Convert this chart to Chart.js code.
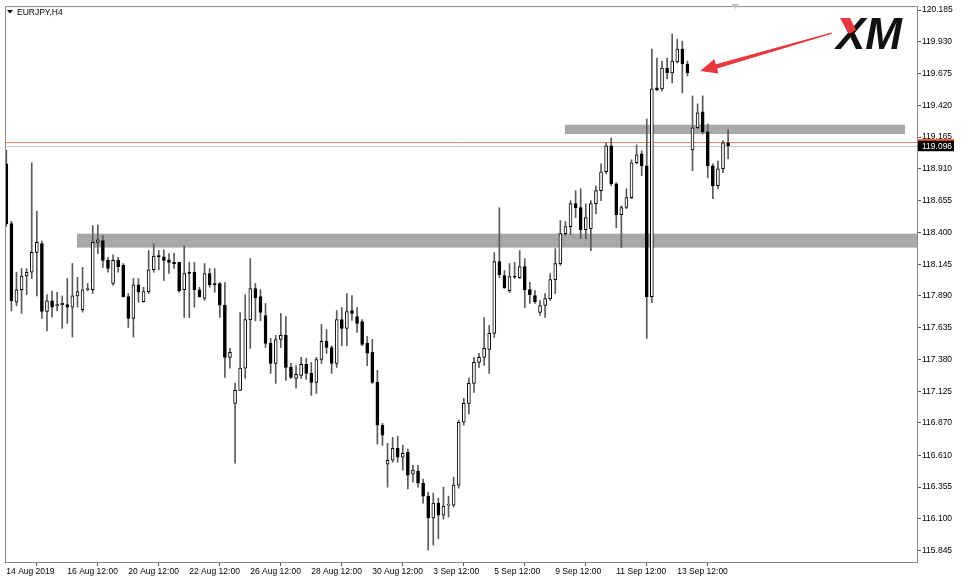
<!DOCTYPE html>
<html><head><meta charset="utf-8">
<script src="https://cdn.jsdelivr.net/npm/chart.js@4.4.1/dist/chart.umd.min.js"></script>
<style>html,body{margin:0;padding:0;background:#fff;overflow:hidden}#wrap{width:967px;height:585px}</style>
</head><body><div id="wrap"><canvas id="c" width="967" height="585"></canvas></div>
<script>
const symbolTitle = 'EURJPY,H4';
const opens = [118.95,118.47,117.84,117.94,118.05,118.08,118.24,118.31,117.765,117.85,
117.81,117.82,117.82,117.80,117.89,117.78,117.94,117.94,118.32,118.335,
118.175,117.99,118.175,118.135,117.885,117.71,117.98,117.845,117.925,118.10,
118.215,118.205,118.18,118.16,118.16,117.94,118.08,118.08,117.94,117.87,
118.07,117.99,117.99,117.815,117.397,117.028,117.132,117.31,117.70,117.95,
117.885,117.733,117.509,117.348,117.54,117.573,117.316,117.228,117.252,117.34,
117.268,117.196,117.38,117.525,117.476,117.348,117.70,117.629,117.773,117.725,
117.685,117.51,117.437,117.196,116.852,116.539,116.571,116.667,116.595,116.635,
116.459,116.483,116.387,116.283,116.107,116.227,116.13,116.21,116.21,116.371,
116.876,117.028,117.188,117.357,117.397,117.461,117.589,118.166,118.053,117.933,
118.045,118.037,118.125,117.941,117.893,117.757,117.813,117.869,118.021,118.15,
118.39,118.446,118.631,118.599,118.422,118.43,118.631,118.735,118.887,119.095,
118.791,118.542,118.6,118.679,118.959,119.031,118.935,117.885,119.56,119.552,
119.72,119.68,119.768,119.872,119.752,119.063,119.24,119.368,119.207,118.935,
118.775,118.911,119.12];
const highs = [119.06,118.49,118.08,118.11,118.11,118.96,118.57,118.33,117.90,117.93,
117.92,117.89,118.03,118.15,118.04,118.12,117.99,118.455,118.46,118.375,
118.20,118.22,118.20,118.15,117.91,118.03,118.03,117.96,118.255,118.31,
118.255,118.26,118.23,118.235,118.16,118.29,118.16,118.16,117.96,118.15,
118.11,118.11,117.998,117.998,117.47,117.19,117.757,117.90,118.19,117.99,
117.94,117.83,117.55,117.573,117.75,117.725,117.35,117.33,117.397,117.39,
117.357,117.397,117.661,117.62,117.49,117.773,117.797,117.909,117.893,117.797,
117.70,117.565,117.541,117.292,116.868,116.707,116.755,116.764,116.692,116.66,
116.53,116.53,116.42,116.315,116.307,116.267,116.355,116.283,116.435,116.892,
117.068,117.23,117.397,117.43,117.717,117.653,118.238,118.598,118.094,118.15,
118.16,118.254,118.19,118.0,117.933,117.853,117.909,118.07,118.27,118.495,
118.487,118.655,118.735,118.751,118.631,118.655,118.775,118.951,119.119,119.159,
118.799,118.615,118.751,118.983,119.103,119.055,119.31,119.872,119.8,119.776,
119.8,119.992,119.952,119.936,119.776,119.496,119.432,119.496,119.271,118.951,
118.975,119.135,119.223];
const lows = [118.45,117.77,117.81,117.75,117.90,118.03,117.89,117.71,117.61,117.72,
117.77,117.63,117.67,117.56,117.80,117.76,117.93,117.91,118.23,118.12,
118.08,117.975,118.08,117.88,117.637,117.56,117.84,117.84,117.91,118.08,
118.10,118.015,118.07,118.11,117.92,117.717,117.717,117.80,117.88,117.855,
117.96,117.92,117.717,117.236,117.31,116.548,117.13,117.228,117.47,117.69,
117.69,117.476,117.268,117.188,117.476,117.212,117.228,117.15,117.228,117.22,
117.092,117.108,117.348,117.428,117.268,117.316,117.49,117.49,117.693,117.597,
117.49,117.33,117.188,116.70,116.69,116.355,116.555,116.555,116.491,116.34,
116.395,116.355,116.227,115.85,115.89,115.94,116.098,116.115,116.195,116.347,
116.852,116.94,117.116,117.316,117.332,117.268,117.557,118.037,117.949,117.917,
118.03,118.03,117.797,117.83,117.83,117.733,117.717,117.853,117.909,118.135,
118.374,118.382,118.519,118.35,118.35,118.254,118.55,118.655,118.871,118.775,
118.438,118.278,118.591,118.671,118.951,118.855,117.549,117.837,119.536,119.536,
119.632,119.6,119.76,119.52,119.656,118.895,119.232,119.191,118.839,118.671,
118.751,118.879,118.991];
const closes = [118.47,117.853,117.94,118.05,118.08,118.24,118.32,117.765,117.85,117.80,
117.82,117.83,117.80,117.89,117.925,117.94,117.95,118.32,118.34,118.175,
118.11,118.175,118.125,117.885,117.71,117.98,117.92,117.925,118.10,118.21,
118.205,118.175,118.16,118.15,117.93,118.07,118.07,117.94,117.885,118.07,
117.98,117.98,117.815,117.397,117.437,117.132,117.31,117.70,117.95,117.877,
117.757,117.509,117.348,117.54,117.573,117.316,117.236,117.26,117.34,117.268,
117.196,117.38,117.525,117.476,117.348,117.70,117.629,117.765,117.75,117.669,
117.50,117.43,117.196,116.852,116.772,116.571,116.667,116.595,116.627,116.451,
116.491,116.387,116.283,116.107,116.227,116.13,116.203,116.22,116.371,116.876,
117.028,117.188,117.357,117.397,117.469,117.589,118.166,118.061,117.957,118.045,
118.04,118.125,117.941,117.901,117.845,117.813,117.869,118.021,118.15,118.39,
118.446,118.631,118.599,118.422,118.52,118.631,118.735,118.887,119.095,118.791,
118.542,118.6,118.679,118.959,119.023,118.935,117.885,119.552,119.544,119.72,
119.68,119.776,119.872,119.752,119.68,119.24,119.36,119.207,118.935,118.775,
118.911,119.119,119.096];
const xTickIndex = [0,12,24,36,48,60,72,84,96,108,120,132];
const xTickLabels = ['14 Aug 2019','16 Aug 12:00','20 Aug 12:00','22 Aug 12:00','26 Aug 12:00','28 Aug 12:00','30 Aug 12:00','3 Sep 12:00','5 Sep 12:00','9 Sep 12:00','11 Sep 12:00','13 Sep 12:00'];
const yTickLabels = ['115.845','116.100','116.355','116.610','116.870','117.125','117.380','117.635','117.890','118.145','118.400','118.655','118.910','119.165','119.420','119.675','119.930','120.185'];
const lastPrice = 119.096;
const askPrice = 119.125;
const zoneLow = [118.278, 119.19];
const zoneHigh = [118.39, 119.265];
const zoneFrom = [13.9, 109.9];
const zoneTo = [null, 176.8];
const arrowFrom = {i: 162.4, p: 120.0};
const arrowTo = {i: 136.5, p: 119.696};

const FONT = {family: '"Liberation Sans", Arial, sans-serif', size: 8.5};
const idx = opens.map((_, i) => i);

const overlay = {
  id: 'overlay',
  beforeDatasetsDraw(chart) {
    const {ctx, chartArea: a, scales: {x, y}} = chart;
    ctx.save();
    ctx.beginPath(); ctx.rect(a.left, a.top, a.right - a.left, a.bottom - a.top); ctx.clip();
    ctx.fillStyle = '#a8a8a8';
    for (let k = 0; k < zoneLow.length; k++) {
      const x0 = x.getPixelForValue(zoneFrom[k]);
      const x1 = zoneTo[k] == null ? a.right : x.getPixelForValue(zoneTo[k]);
      const y0 = y.getPixelForValue(zoneHigh[k]);
      const y1 = y.getPixelForValue(zoneLow[k]);
      ctx.fillRect(x0, y0, x1 - x0, y1 - y0);
    }
    ctx.lineWidth = 1;
    ctx.strokeStyle = '#f0885a';
    let yy = Math.round(y.getPixelForValue(askPrice)) + 0.5;
    ctx.beginPath(); ctx.moveTo(a.left, yy); ctx.lineTo(a.right, yy); ctx.stroke();
    ctx.strokeStyle = '#c4c4c4';
    yy = Math.round(y.getPixelForValue(lastPrice)) + 0.5;
    ctx.beginPath(); ctx.moveTo(a.left, yy); ctx.lineTo(a.right, yy); ctx.stroke();
    ctx.restore();
  },
  afterDraw(chart) {
    const {ctx, chartArea: a, scales: {x, y}} = chart;
    ctx.save();
    ctx.strokeStyle = '#8a8a8a'; ctx.lineWidth = 1;
    ctx.strokeRect(a.left + 0.5, a.top + 0.5, a.right - a.left - 1, a.bottom - a.top - 1);
    const py = y.getPixelForValue(lastPrice);
    ctx.fillStyle = '#000';
    ctx.fillRect(a.right, py - 5.5, 36, 11);
    ctx.fillStyle = '#ff3b1f';
    ctx.fillRect(a.right, py - 6.5, 36, 1.5);
    ctx.fillStyle = '#fff';
    ctx.font = '8.5px "Liberation Sans", Arial, sans-serif';
    ctx.textBaseline = 'middle'; ctx.textAlign = 'left';
    ctx.fillText(lastPrice.toFixed(3), a.right + 4, py + 0.5);
    ctx.fillStyle = '#000';
    ctx.beginPath(); ctx.moveTo(7, 10); ctx.lineTo(13, 10); ctx.lineTo(10, 13.5); ctx.closePath(); ctx.fill();
    ctx.fillText(symbolTitle, 17, 12.5);
    const mx = x.getPixelForValue(143.4);
    ctx.fillStyle = '#c4c4c4';
    ctx.beginPath(); ctx.moveTo(mx - 4, 4); ctx.lineTo(mx + 4, 4); ctx.lineTo(mx, 9); ctx.closePath(); ctx.fill();
    const x0 = x.getPixelForValue(arrowFrom.i), y0 = y.getPixelForValue(arrowFrom.p);
    const x1 = x.getPixelForValue(arrowTo.i), y1 = y.getPixelForValue(arrowTo.p);
    const dx = x1 - x0, dy = y1 - y0, L = Math.hypot(dx, dy);
    const ux = dx / L, uy = dy / L, nx = -uy, ny = ux;
    const hl = 17, hw = 7.5;
    const bx = x1 - ux * hl, by = y1 - uy * hl;
    ctx.fillStyle = '#e8383d';
    ctx.beginPath();
    ctx.moveTo(x0 + nx * 0.6, y0 + ny * 0.6);
    ctx.lineTo(bx + nx * 2.2, by + ny * 2.2);
    ctx.lineTo(bx + nx * hw, by + ny * hw);
    ctx.lineTo(x1, y1);
    ctx.lineTo(bx - nx * hw, by - ny * hw);
    ctx.lineTo(bx - nx * 2.2, by - ny * 2.2);
    ctx.lineTo(x0 - nx * 0.6, y0 - ny * 0.6);
    ctx.closePath(); ctx.fill();
    ctx.font = 'italic bold 44px "Liberation Sans", Arial, sans-serif';
    ctx.textBaseline = 'alphabetic'; ctx.textAlign = 'left';
    ctx.fillStyle = '#111';
    ctx.fillText('XM', 836, 49);
    ctx.fillStyle = '#e8383d';
    ctx.beginPath(); ctx.moveTo(840, 18); ctx.lineTo(850, 18); ctx.lineTo(856, 30); ctx.lineTo(849, 34); ctx.closePath(); ctx.fill();
    ctx.restore();
  }
};

new Chart(document.getElementById('c'), {
  type: 'bar',
  data: {
    datasets: [
      {
        label: 'body',
        order: 0,
        grouped: false,
        data: idx.map(i => ({x: i, y: [opens[i], closes[i]]})),
        backgroundColor: idx.map(i => closes[i] >= opens[i] ? '#ffffff' : '#000000'),
        borderColor: '#000000',
        borderWidth: 1,
        borderSkipped: false,
        barThickness: 3,
        minBarLength: 1
      },
      {
        label: 'wick',
        order: 1,
        grouped: false,
        data: idx.map(i => ({x: i, y: [lows[i], highs[i]]})),
        backgroundColor: '#5a5a5a',
        borderWidth: 0,
        barThickness: 1
      }
    ]
  },
  options: {
    responsive: false,
    animation: false,
    devicePixelRatio: 1,
    layout: {padding: {left: 5, top: 5, right: 0, bottom: 0}},
    plugins: {legend: {display: false}, tooltip: {enabled: false}, title: {display: false}},
    scales: {
      x: {
        type: 'linear',
        min: -0.26,
        max: 179.36,
        offset: false,
        border: {display: false},
        grid: {drawOnChartArea: false, drawTicks: true, tickLength: 3, color: '#555'},
        afterBuildTicks: s => { s.ticks = xTickIndex.map(v => ({value: v})); },
        afterFit: s => { s.height = 22; },
        ticks: {
          autoSkip: false, maxRotation: 0, minRotation: 0, align: 'start', padding: 1,
          color: '#000', font: FONT,
          callback: v => { const k = xTickIndex.indexOf(v); return k >= 0 ? xTickLabels[k] : ''; }
        }
      },
      y: {
        position: 'right',
        min: 115.746,
        max: 120.217,
        border: {display: false},
        grid: {drawOnChartArea: false, drawTicks: true, tickLength: 3, color: '#555'},
        afterBuildTicks: s => { s.ticks = yTickLabels.map(v => ({value: parseFloat(v)})); },
        afterFit: s => { s.width = 49; },
        ticks: {
          autoSkip: false, padding: 1, color: '#000', font: FONT,
          callback: v => { const k = yTickLabels.findIndex(t => Math.abs(parseFloat(t) - v) < 1e-6); return k >= 0 ? yTickLabels[k] : ''; }
        }
      }
    }
  },
  plugins: [overlay]
});
</script></body></html>
